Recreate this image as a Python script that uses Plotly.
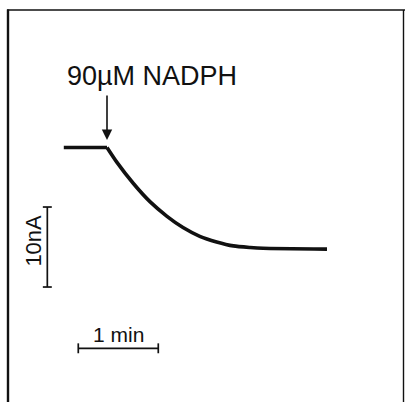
import plotly.graph_objects as go

# Current trace: time after NADPH addition (min) and current change (nA)
time_min = [-0.54, 0.0, 0.12, 0.33, 0.54, 0.75, 0.95, 1.16, 1.37, 1.58, 1.79, 1.95, 2.75]
current_na = [0.0, 0.0, -1.8, -4.5, -6.8, -8.6, -10.0, -11.1, -11.8, -12.3, -12.5, -12.6, -12.7]

# Scale bars
scale_time_min = 1.0
scale_current_na = 10.0

label_addition = "90µM NADPH"
label_current = "10nA"
label_time = "1 min"

INK = "#111111"
FONT = "Liberation Sans, Arial, Helvetica, sans-serif"

fig = go.Figure()

# Baseline before addition (straight) and decay after (smoothed)
fig.add_trace(go.Scatter(x=time_min[:2], y=current_na[:2], mode="lines",
                         line=dict(color=INK, width=3.6), hoverinfo="skip"))
fig.add_trace(go.Scatter(x=time_min[1:], y=current_na[1:], mode="lines",
                         line=dict(color=INK, width=3.6, shape="spline", smoothing=0.6),
                         hoverinfo="skip"))

# Vertical (current) scale bar
vx, vy0 = -0.746, -7.44
vy1 = vy0 - scale_current_na
cap_w = 0.056
fig.add_shape(type="line", x0=vx, x1=vx, y0=vy0, y1=vy1, line=dict(color=INK, width=1.7))
for yy in (vy0, vy1):
    fig.add_shape(type="line", x0=vx - cap_w, x1=vx + cap_w, y0=yy, y1=yy,
                  line=dict(color=INK, width=1.7))

# Horizontal (time) scale bar
hx0, hy = -0.359, -25.1
hx1 = hx0 + scale_time_min
cap_h = 0.62
fig.add_shape(type="line", x0=hx0, x1=hx1, y0=hy, y1=hy, line=dict(color=INK, width=1.7))
for xx in (hx0, hx1):
    fig.add_shape(type="line", x0=xx, x1=xx, y0=hy - cap_h, y1=hy + cap_h,
                  line=dict(color=INK, width=1.7))

# Frame around the record
fig.add_shape(type="line", xref="paper", yref="paper", x0=8 / 405, x1=8 / 405,
              y0=1 - 9.5 / 402, y1=-0.05, line=dict(color=INK, width=2.4))
fig.add_shape(type="line", xref="paper", yref="paper", x0=7 / 405, x1=1.0,
              y0=1 - 10 / 402, y1=1 - 10 / 402, line=dict(color=INK, width=1.6))
fig.add_shape(type="line", xref="paper", yref="paper", x0=403.5 / 405, x1=403.5 / 405,
              y0=1 - 10 / 402, y1=-0.05, line=dict(color=INK, width=1.4))

# Addition arrow
fig.add_annotation(x=0.0, y=0.94, ax=0, ay=-46, text="", showarrow=True,
                   arrowhead=2, arrowsize=1.3, arrowwidth=1.6, arrowcolor=INK)

fig.add_annotation(x=-0.525, y=8.94, text=label_addition, showarrow=False,
                   xanchor="left", yanchor="middle",
                   font=dict(family=FONT, size=27, color=INK))
fig.add_annotation(x=-0.93, y=-11.69, text=label_current, showarrow=False,
                   textangle=-90, xanchor="center", yanchor="middle",
                   font=dict(family=FONT, size=22, color=INK))
fig.add_annotation(x=0.1375, y=-23.4, text=label_time, showarrow=False,
                   xanchor="center", yanchor="middle",
                   font=dict(family=FONT, size=21, color=INK))

fig.update_layout(
    width=405, height=402,
    margin=dict(l=0, r=0, t=0, b=0),
    paper_bgcolor="white", plot_bgcolor="white",
    showlegend=False,
    xaxis=dict(range=[-107 / 80, 298 / 80], visible=False, fixedrange=True),
    yaxis=dict(range=[-(402 - 147.5) / 8, 147.5 / 8], visible=False, fixedrange=True),
)

fig.write_html("out.html", config={"displayModeBar": False})
